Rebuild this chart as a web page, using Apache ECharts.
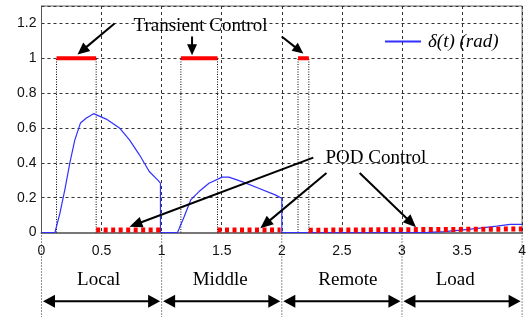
<!DOCTYPE html>
<html><head><meta charset="utf-8">
<script src="https://cdn.jsdelivr.net/npm/echarts@6/dist/echarts.min.js"></script>
<style>html,body{margin:0;padding:0;background:#fff}#c{width:529px;height:322px}</style>
</head><body><div id="c"></div>
<script>
// ---- data ----
const deltaT = [0, 0.112, 0.153, 0.194, 0.236, 0.277, 0.324, 0.374, 0.434, 0.539, 0.649, 0.732, 0.815, 0.897, 0.966, 0.99, 0.99, 1.132, 1.187, 1.242, 1.311, 1.394, 1.504, 1.559, 1.669, 1.807, 1.945, 2.0, 2.0, 3.0, 3.21, 3.35, 3.49, 3.63, 3.79, 3.9, 4.0];
const deltaV = [0, 0, 0.11, 0.245, 0.40, 0.53, 0.628, 0.657, 0.682, 0.651, 0.60, 0.532, 0.446, 0.35, 0.302, 0.283, 0, 0, 0.09, 0.187, 0.235, 0.283, 0.318, 0.318, 0.292, 0.254, 0.216, 0.197, 0, 0, 0.001, 0.005, 0.014, 0.024, 0.037, 0.047, 0.047];
const transientStart = [0.125, 1.16, 2.135];
const transientEnd = [0.455, 1.465, 2.225];
const transientLevel = [1, 1, 1];
const podStart = [0.455, 1.465, 2.225];
const podEnd = [0.99, 1.99, 4.0];
const podStartV = [0.014, 0.014, 0.013];
const podEndV = [0.014, 0.014, 0.02];
const regionNames = ['Local', 'Middle', 'Remote', 'Load'];
const regionCenters = [0.476, 1.487, 2.55, 3.443];
const regionBounds = [0, 1, 2, 3, 4];
const legendName = 'δ(t) (rad)';
const transientLabel = 'Transient Control';
const podLabel = 'POD Control';

// ---- chart ----
const chart = echarts.init(document.getElementById('c'));
const series = [{
  name: legendName, type: 'line', symbol: 'none', animation: false,
  lineStyle: {color: '#3030ff', width: 1.2}, itemStyle: {color: '#3030ff'},
  data: deltaT.map((t, i) => [t, deltaV[i]]), z: 3
}];
transientStart.forEach((s, i) => {
  [s, transientEnd[i]].forEach(b => {
    series.push({type: 'line', symbol: 'none', animation: false, silent: true, z: 2,
      lineStyle: {color: '#000', width: 1, type: [1, 1.5]},
      data: [[b, 0], [b, transientLevel[i]]]});
  });
  series.push({type: 'line', symbol: 'none', animation: false, silent: true, z: 4,
    lineStyle: {color: '#ff0000', width: 4},
    data: [[s, transientLevel[i]], [transientEnd[i], transientLevel[i]]]});
});
podStart.forEach((s, i) => {
  series.push({type: 'line', symbol: 'none', animation: false, silent: true, z: 5,
    lineStyle: {color: '#ff0000', width: 5, type: [4, 3.5]},
    data: [[s, podStartV[i]], [podEnd[i], podEndV[i]]]});
});

const option = {
  animation: false,
  backgroundColor: '#fff',
  grid: {left: 41.5, right: 4, top: 6, bottom: 89.5, show: true, borderColor: '#666', borderWidth: 1},
  legend: {data: [legendName], left: 380, top: 27, icon: 'rect', itemWidth: 36, itemHeight: 2, itemGap: 5,
    textStyle: {fontFamily: 'Liberation Serif', fontStyle: 'italic', fontSize: 19, color: '#000', padding: [0, 0, 0, 2]}},
  xAxis: {type: 'value', min: 0, max: 4, interval: 0.5,
    axisLine: {show: true, onZero: false, lineStyle: {color: '#777', width: 2}},
    axisTick: {show: false},
    axisLabel: {fontFamily: 'Liberation Sans', fontSize: 14, color: '#111', margin: 12},
    splitLine: {show: true, lineStyle: {color: '#333', type: [3, 3], width: 1}}},
  yAxis: {type: 'value', min: 0, max: 1.3, interval: 0.2,
    axisLine: {show: true, lineStyle: {color: '#555', width: 1}},
    axisTick: {show: false},
    axisLabel: {fontFamily: 'Liberation Sans', fontSize: 14, color: '#111', margin: 5, showMaxLabel: false},
    splitLine: {show: true, lineStyle: {color: '#333', type: [3, 3], width: 1}}},
  series: series
};
chart.setOption(option);

// ---- annotations (data coordinates -> pixels) ----
const P = (t, v) => chart.convertToPixel({gridIndex: 0}, [t, v]);
const g = [];
const font = '19px "Liberation Serif"';
function arrow(a, b, head, half, w) {
  const dx = b[0] - a[0], dy = b[1] - a[1], L = Math.hypot(dx, dy);
  const ux = dx / L, uy = dy / L, px = -uy, py = ux;
  const base = [b[0] - ux * head, b[1] - uy * head];
  g.push({type: 'line', silent: true, z: 10, shape: {x1: a[0], y1: a[1], x2: base[0] + ux, y2: base[1] + uy},
    style: {stroke: '#000', lineWidth: w}});
  g.push({type: 'polygon', silent: true, z: 10, shape: {points: [b, [base[0] + px * half, base[1] + py * half], [base[0] - px * half, base[1] - py * half]]},
    style: {fill: '#000'}});
}
function text(str, t, v) {
  const p = P(t, v);
  g.push({type: 'text', silent: true, z: 10, x: p[0], y: p[1],
    style: {text: str, font: font, fill: '#000', align: 'center', verticalAlign: 'middle'}});
}
// Transient Control
text(transientLabel, 1.323, 1.185);
arrow(P(0.608, 1.2), P(0.30, 1.022), 12, 5.5, 2);
arrow(P(1.253, 1.125), P(1.253, 1.018), 11, 5, 2);
arrow(P(1.999, 1.125), P(2.179, 1.027), 11, 5, 2);
// POD Control
text(podLabel, 2.783, 0.429);
arrow(P(2.262, 0.43), P(0.732, 0.033), 13, 5.5, 2);
arrow(P(2.372, 0.341), P(1.821, 0.024), 13, 5.5, 2);
arrow(P(2.648, 0.341), P(3.117, 0.030), 13, 5.5, 2);
// region markers below the axis
regionBounds.forEach(b => {
  const a = P(b, 0), c = P(b, -0.485);
  g.push({type: 'line', silent: true, z: 10, shape: {x1: a[0], y1: a[1], x2: c[0], y2: c[1]},
    style: {stroke: '#222', lineWidth: 1, lineDash: [1, 2]}});
});
regionNames.forEach((n, i) => {
  text(n, regionCenters[i], -0.27);
  const l = P(regionBounds[i], -0.394), r = P(regionBounds[i + 1], -0.394);
  const y = l[1], x1 = l[0] + 1.5, x2 = r[0] - 1.5, head = 12, half = 6.5;
  g.push({type: 'line', silent: true, z: 10, shape: {x1: x1 + head - 1, y1: y, x2: x2 - head + 1, y2: y},
    style: {stroke: '#000', lineWidth: 2}});
  g.push({type: 'polygon', silent: true, z: 10, shape: {points: [[x1, y], [x1 + head, y - half], [x1 + head, y + half]]}, style: {fill: '#000'}});
  g.push({type: 'polygon', silent: true, z: 10, shape: {points: [[x2, y], [x2 - head, y - half], [x2 - head, y + half]]}, style: {fill: '#000'}});
});
chart.setOption({graphic: g});
</script>
</body></html>
